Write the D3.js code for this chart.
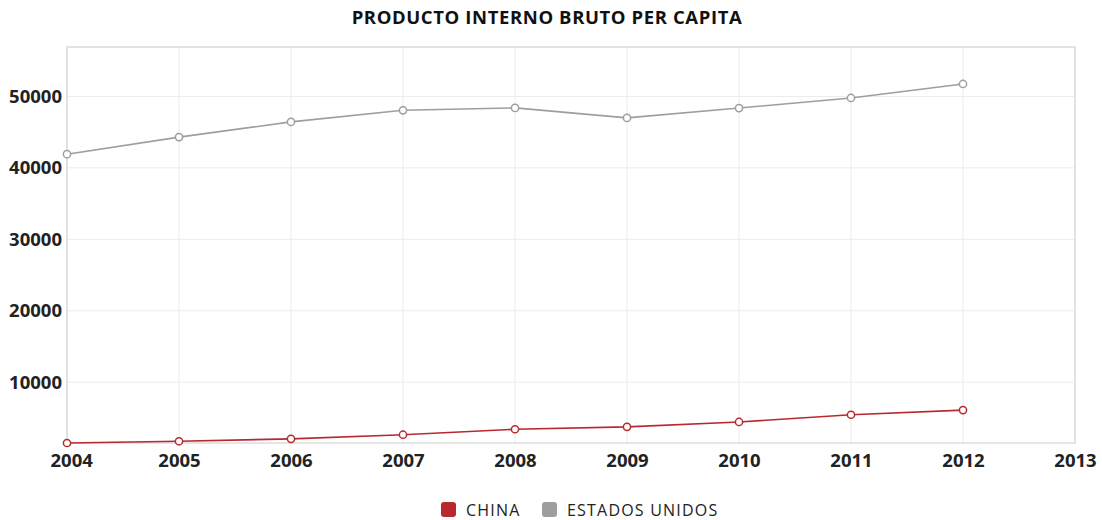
<!DOCTYPE html>
<meta charset="utf-8">
<style>
  body { margin: 0; background: #fff; font-family: "Open Sans", sans-serif; }
  .grid line { stroke: #ececec; }
  .axis text { font-family: "Open Sans", sans-serif; font-weight: bold; fill: #222; }
</style>
<body>
<div id="chart"></div>
<script src="https://d3js.org/d3.v7.min.js"></script>
<script>
  // data
  var years = [2004, 2005, 2006, 2007, 2008, 2009, 2010, 2011, 2012];
  var china = [1490, 1731, 2069, 2651, 3414, 3749, 4434, 5447, 6093];
  var usa = [41922, 44308, 46437, 48061, 48401, 47002, 48374, 49790, 51749];
  var xTicks = [2004, 2005, 2006, 2007, 2008, 2009, 2010, 2011, 2012, 2013];
  var yTicks = [10000, 20000, 30000, 40000, 50000];
  var seriesNames = ["CHINA", "ESTADOS UNIDOS"];
  var colors = ["#b8292f", "#9e9e9e"];

  var W = 1102, H = 520;
  var margin = { top: 47, right: 27, bottom: 77, left: 67 },
    width = W - margin.left - margin.right,
    height = H - margin.top - margin.bottom;

  var svg = d3.select("#chart").append("svg")
    .attr("width", W).attr("height", H);

  svg.append("text")
    .attr("x", 547).attr("y", 24)
    .attr("text-anchor", "middle")
    .style("font-weight", "bold").style("font-size", "18.5px").style("fill", "#111")
    .style("letter-spacing", "0.6px")
    .text("PRODUCTO INTERNO BRUTO PER CAPITA");

  var g = svg.append("g").attr("transform", "translate(" + margin.left + "," + margin.top + ")");

  var x = d3.scaleLinear().domain([2004, 2013]).range([0, width]);
  var y = d3.scaleLinear().domain([d3.min(china), d3.max(usa) * 1.1]).range([height, 0]);

  // grid
  g.append("g").attr("class", "grid")
    .selectAll("line.v").data(xTicks).enter().append("line")
    .attr("x1", d => x(d)).attr("x2", d => x(d)).attr("y1", 0).attr("y2", height);
  g.append("g").attr("class", "grid")
    .selectAll("line.h").data(yTicks).enter().append("line")
    .attr("x1", 0).attr("x2", width).attr("y1", d => y(d)).attr("y2", d => y(d));

  // frame
  g.append("rect").attr("width", width).attr("height", height)
    .attr("fill", "none").attr("stroke", "#dcdcdc").attr("stroke-width", 1.5);

  // axes
  var xAxis = g.append("g").attr("class", "axis")
    .attr("transform", "translate(0," + height + ")")
    .call(d3.axisBottom(x).tickValues(xTicks).tickFormat(d3.format("d")).tickSize(0).tickPadding(11));
  xAxis.select(".domain").remove();
  xAxis.selectAll("text").style("font-size", "18.5px")
    .attr("text-anchor", (d, i) => i === 0 ? "start" : "middle")
    .attr("dx", (d, i) => i === 0 ? -17 : 0);

  var yAxis = g.append("g").attr("class", "axis")
    .call(d3.axisLeft(y).tickValues(yTicks).tickFormat(d3.format("d")).tickSize(0).tickPadding(5));
  yAxis.select(".domain").remove();
  yAxis.selectAll("text").style("font-size", "18.5px");

  // lines
  var line = d3.line().x((d, i) => x(years[i])).y(d => y(d));
  [china, usa].forEach(function (s, k) {
    g.append("path").datum(s)
      .attr("fill", "none").attr("stroke", colors[k]).attr("stroke-width", 1.6)
      .attr("d", line);
    g.selectAll(".pt" + k).data(s).enter().append("circle")
      .attr("cx", (d, i) => x(years[i])).attr("cy", d => y(d)).attr("r", 3.6)
      .attr("fill", "#fff").attr("stroke", colors[k]).attr("stroke-width", 1.5);
  });

  // legend
  var legX = [441, 542];
  var leg = svg.append("g");
  seriesNames.forEach(function (n, k) {
    leg.append("rect").attr("x", legX[k]).attr("y", 502).attr("width", 15).attr("height", 15)
      .attr("rx", 3).attr("fill", colors[k]);
    leg.append("text").attr("x", legX[k] + 25).attr("y", 515.5)
      .style("font-size", "16px").style("fill", "#222").style("letter-spacing", "1.2px")
      .text(n);
  });
</script>
</body>
